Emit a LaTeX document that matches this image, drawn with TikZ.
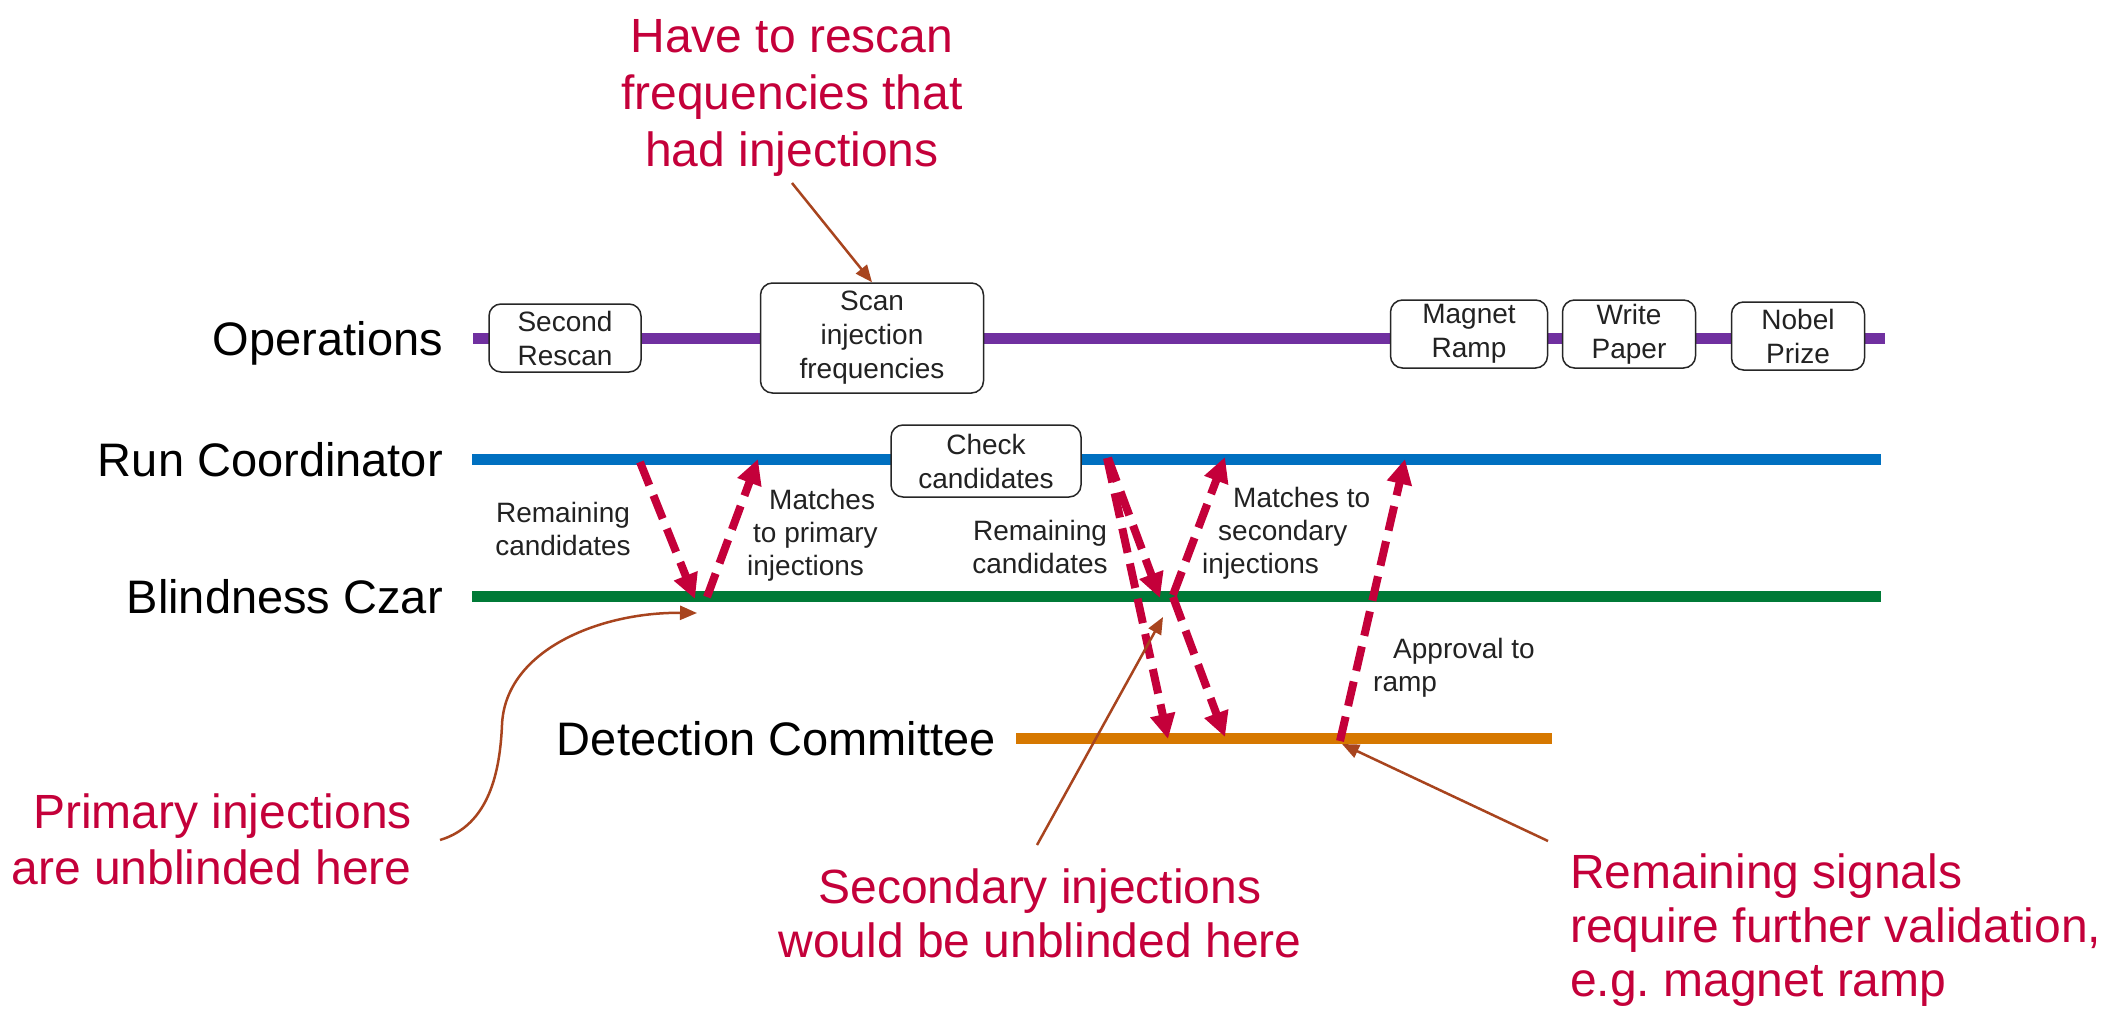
\documentclass[tikz,border=0pt]{standalone}
\usepackage{fontspec}
\setmainfont{Liberation Sans}
\usetikzlibrary{arrows.meta}
\definecolor{opspurple}{RGB}{112,48,160}
\definecolor{runblue}{RGB}{0,112,192}
\definecolor{czargreen}{RGB}{0,122,55}
\definecolor{detorange}{RGB}{214,120,0}
\definecolor{notered}{RGB}{196,0,58}
\definecolor{pointerbrown}{RGB}{168,68,30}
\definecolor{boxtext}{RGB}{34,34,34}
\frenchspacing
\begin{document}
\begin{tikzpicture}[x=1pt,y=-1pt,
  lane/.style={line width=11pt},
  lanelabel/.style={anchor=base east, font=\fontsize{47}{56}\selectfont, inner sep=0pt},
  stepbox/.style={draw=black!85, line width=1.5pt, rounded corners=12pt, fill=white,
    align=center, inner sep=0pt, font=\fontsize{28}{34}\selectfont, text=boxtext},
  flow/.style={notered, line width=8pt, dash pattern=on 25pt off 11pt,
    -{Triangle[length=25pt,width=24pt]}},
  flowlabel/.style={font=\fontsize{28}{33}\selectfont, text=boxtext, inner sep=0pt},
  note/.style={text=notered, font=\fontsize{48}{56}\selectfont, inner sep=0pt},
  callout/.style={pointerbrown, line width=2.5pt, -{Triangle[length=17pt,width=14pt]}}
]
\useasboundingbox[fill=white] (0,0) rectangle (2111,1014);

% lane end points
\coordinate (opsL) at (473,338);  \coordinate (opsR) at (1885,338);
\coordinate (runL) at (472,459);  \coordinate (runR) at (1881,459);
\coordinate (czarL) at (472,596); \coordinate (czarR) at (1881,596);
\coordinate (detL) at (1016,738); \coordinate (detR) at (1552,738);

% lanes
\draw[lane, opspurple] (opsL) -- (opsR);
\draw[lane, runblue] (runL) -- (runR);
\draw[lane, czargreen] (czarL) -- (czarR);
\draw[lane, detorange] (detL) -- (detR);

% lane labels
\node[lanelabel] (opslabel) at (443,355) {Operations};
\node[lanelabel] (runlabel) at (443,476) {Run Coordinator};
\node[lanelabel] (czarlabel) at (443,613) {Blindness Czar};
\node[lanelabel] (detlabel) at (996,755) {Detection Committee};

% steps on the lanes
\node[stepbox, minimum width=152pt, minimum height=68pt] (rescan) at (565,338) {Second\\Rescan};
\node[stepbox, minimum width=223pt, minimum height=110pt] (scan) at (872,338) {Scan\\injection\\frequencies};
\node[stepbox, minimum width=157pt, minimum height=68pt] (ramp) at (1469,334) {Magnet\\Ramp};
\node[stepbox, minimum width=133pt, minimum height=68pt] (paper) at (1629,334) {Write\\Paper};
\node[stepbox, minimum width=133pt, minimum height=68pt] (nobel) at (1798,336) {Nobel\\Prize};
\node[stepbox, minimum width=190pt, minimum height=72pt] (check) at (986,461) {Check\\candidates};

% hand-off points
\coordinate (f1s) at (640,462);  \coordinate (f1e) at (695,599);
\coordinate (f2s) at (707,597);  \coordinate (f2e) at (758,459);
\coordinate (f3s) at (1107,458); \coordinate (f3e) at (1168,739);
\coordinate (f4s) at (1108,458); \coordinate (f4e) at (1160,598);
\coordinate (f5s) at (1173,595); \coordinate (f5e) at (1225,457);
\coordinate (f6s) at (1173,597); \coordinate (f6e) at (1225,737);
\coordinate (f7s) at (1340,741); \coordinate (f7e) at (1405,459);

% hand-offs
\draw[flow] (f1s) -- (f1e);
\draw[flow] (f2s) -- (f2e);
\draw[flow] (f3s) -- (f3e);
\draw[flow] (f4s) -- (f4e);
\draw[flow] (f5s) -- (f5e);
\draw[flow] (f6s) -- (f6e);
\draw[flow] (f7s) -- (f7e);

% hand-off labels
\node[flowlabel, align=center] (rem1) at (563,529) {Remaining\\candidates};
\node[flowlabel, align=left, anchor=west] (match1) at (747,535)
  {\hspace*{22pt}Matches\\\hspace*{6pt}to primary\\injections};
\node[flowlabel, align=center] (rem2) at (1040,547) {Remaining\\candidates};
\node[flowlabel, align=left, anchor=west] (match2) at (1202,533)
  {\hspace*{31pt}Matches to\\\hspace*{16pt}secondary\\injections};
\node[flowlabel, align=left, anchor=west] (approve) at (1373,668)
  {\hspace*{20pt}Approval to\\ramp};

% remarks
\node[note, align=center, anchor=north, font=\fontsize{48}{57}\selectfont] (rescannote) at (792,19)
  {Have to rescan\\frequencies that\\had injections};
\node[note, align=right, anchor=north east] (primnote) at (412,794)
  {Primary injections\\are unblinded here};
\node[note, align=center, anchor=north, font=\fontsize{48}{54}\selectfont] (secnote) at (1040,869)
  {Secondary injections\\would be unblinded here};
\node[note, align=left, anchor=north west, font=\fontsize{48}{54}\selectfont] (signote) at (1570,854)
  {Remaining signals\\require further validation,\\e.g. magnet ramp};

% remark pointers
\coordinate (p1s) at (792,183);
\coordinate (p2s) at (440,840);   \coordinate (p2e) at (697,613);
\coordinate (p3s) at (1037,845);  \coordinate (p3e) at (1163,617);
\coordinate (p4s) at (1548,841);  \coordinate (p4e) at (1342,744);
\draw[callout] (p1s) -- (scan.north);
\draw[callout] (p2s) .. controls (490,825) and (500,770) .. (502,725)
  .. controls (505,650) and (600,612) .. (p2e);
\draw[callout] (p3s) -- (p3e);
\draw[callout] (p4s) -- (p4e);
\end{tikzpicture}
\end{document}
